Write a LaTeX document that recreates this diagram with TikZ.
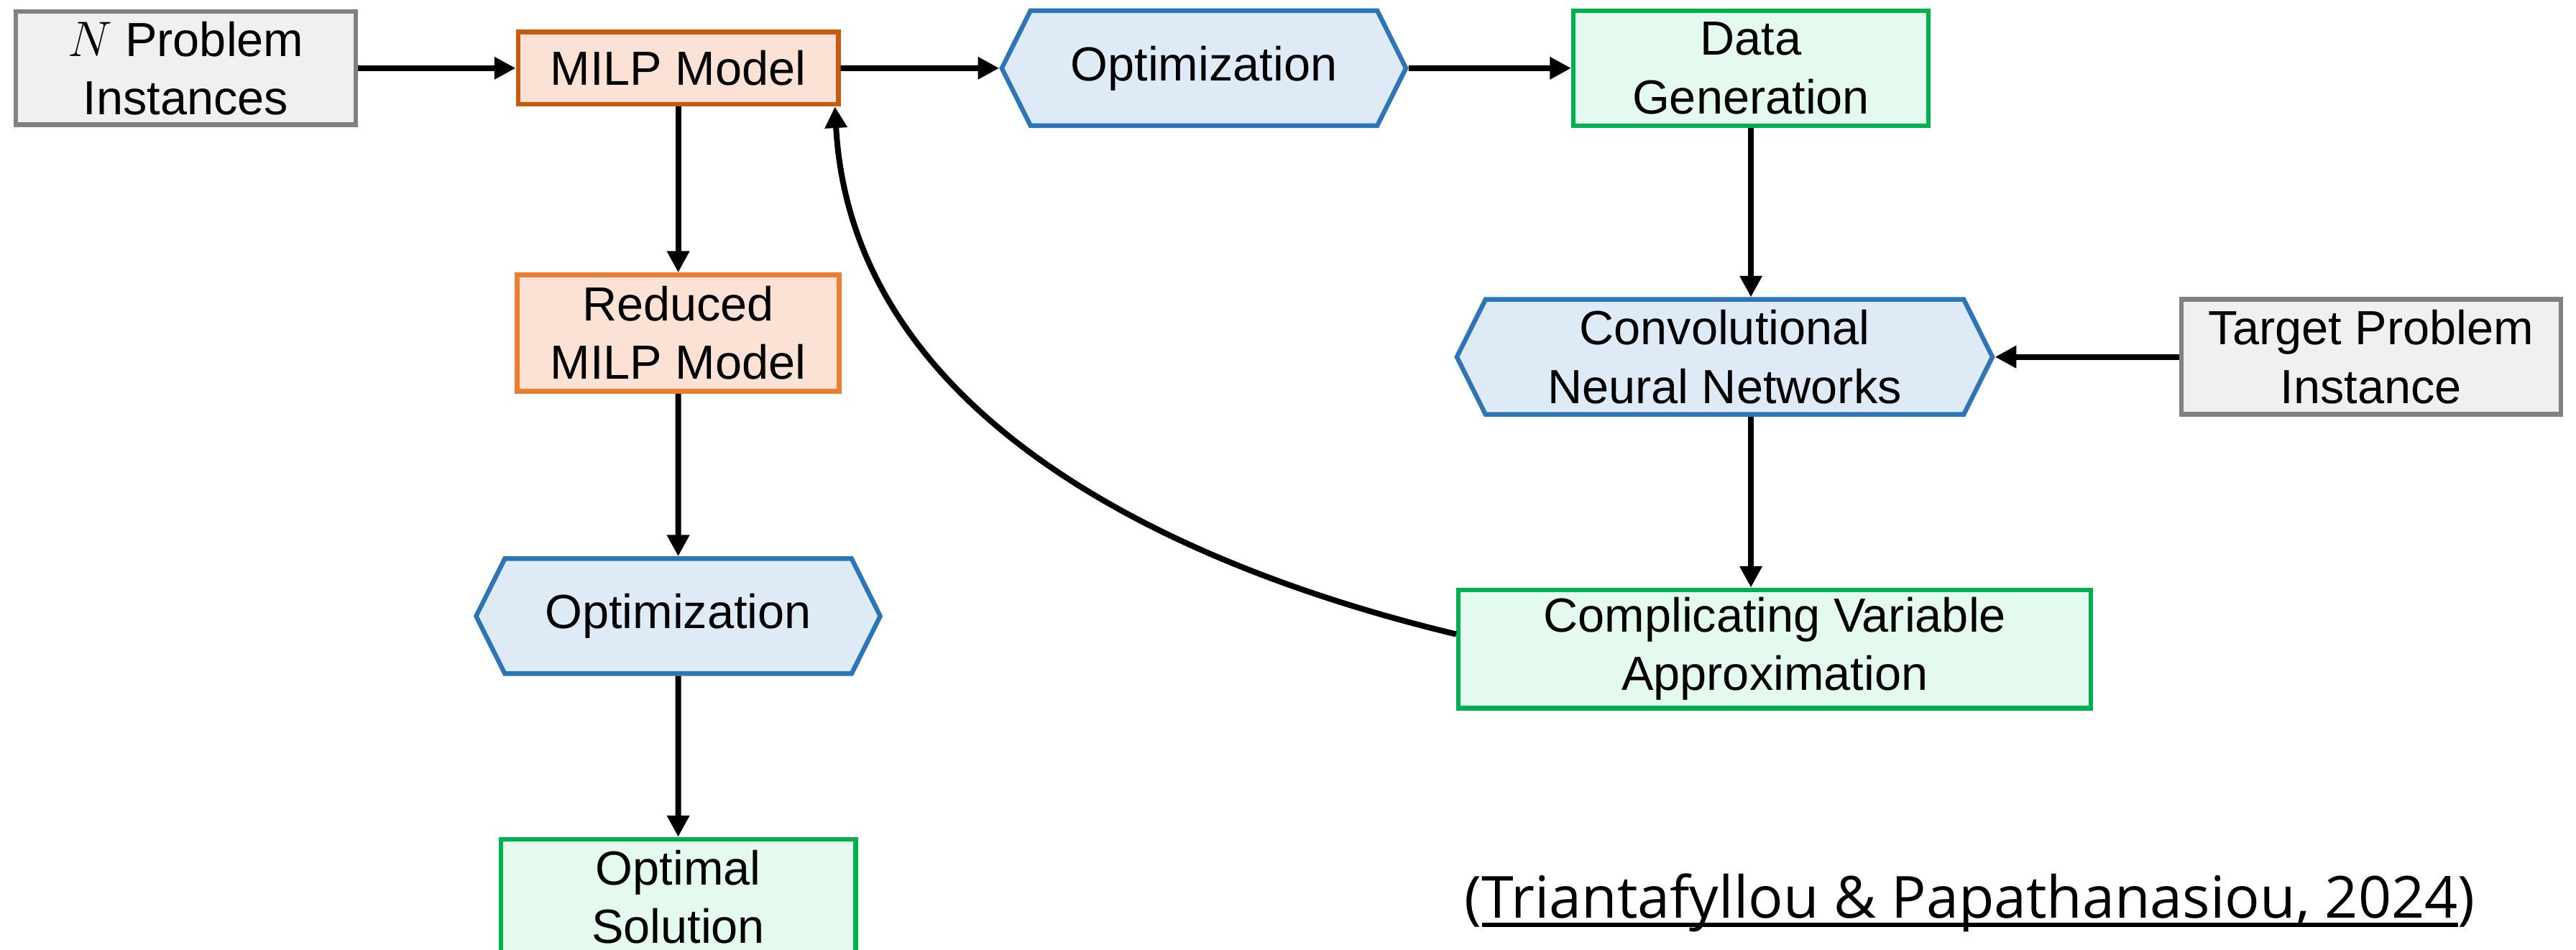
\documentclass[tikz,border=0pt]{standalone}
\usepackage{fontspec}
\setmainfont{Liberation Sans}
\newfontfamily\citefont{Open Sans}
\usetikzlibrary{shapes.symbols, arrows.meta, positioning}

\definecolor{greyfill}{HTML}{F0F0F0}
\definecolor{greyline}{HTML}{808080}
\definecolor{milpfill}{HTML}{FBE2D5}
\definecolor{milpline}{HTML}{C55A11}
\definecolor{redline}{HTML}{ED7D31}
\definecolor{optfill}{HTML}{DEEBF7}
\definecolor{optline}{HTML}{2E75B6}
\definecolor{genfill}{HTML}{E4FAEE}
\definecolor{genline}{HTML}{00B050}

% underline of the reference
\newcommand{\citeul}[1]{\setbox0\hbox{#1}\rlap{\rule[-0.11cm]{\wd0}{0.055cm}}\box0}

\begin{document}
\begin{tikzpicture}[
    box/.style={draw, rectangle, line width=1.6pt, minimum height=1.4cm, align=center, inner sep=1pt, font=\fontsize{16.6}{20.2}\selectfont},
    inbox/.style={box, fill=greyfill, draw=greyline},
    milpbox/.style={box, fill=milpfill, draw=milpline},
    optbox/.style={box, signal, signal to=east and west, signal pointer angle=127, fill=optfill, draw=optline, minimum width=4.92cm},
    genbox/.style={box, fill=genfill, draw=genline},
    arrow/.style={-{Triangle[length=2.6mm, width=2.6mm]}, line width=2pt}
]

\useasboundingbox (0,0) rectangle (31.36,-11.56);

% Nodes
\node [inbox, minimum width=4.14cm, minimum height=1.38cm] (npi) at (2.26,-0.83) {$N$ Problem\\Instances};
\node [milpbox, right=1.92cm of npi, minimum width=3.9cm, minimum height=0.88cm] (milp) {MILP Model};
\node [optbox, right=1.93cm of milp] (opt1) {Optimization};
\node [genbox, right=1.98cm of opt1, minimum width=4.32cm] (dg) {Data\\Generation};

\node [milpbox, draw=redline, below=2.02cm of milp, minimum width=3.92cm, minimum height=1.42cm] (rmilp) {Reduced\\MILP Model};
\node [optbox, below=1.98cm of rmilp] (opt2) {Optimization};
\node [genbox, below=1.96cm of opt2, minimum width=4.32cm] (os) {Optimal\\Solution};

\node [optbox, below=2.06cm of dg, xshift=-0.32cm, minimum width=6.52cm] (cnn) {Convolutional\\Neural Networks};
\node [inbox, right=2.24cm of cnn, minimum width=4.62cm] (tpi) {Target Problem\\Instance};
\node [genbox, below=2.08cm of cnn, xshift=0.61cm, minimum width=7.7cm, minimum height=1.44cm] (cva) {Complicating Variable\\Approximation};

\node [anchor=base, font=\citefont\fontsize{20.1}{24}\selectfont] (cite) at (23.98,-11.18) {(\citeul{Triantafyllou \& Papathanasiou, 2024})};

% Arrows
\draw [arrow] (npi) -- (milp);
\draw [arrow] (milp) -- (opt1);
\draw [arrow] (opt1) -- (dg);
\draw [arrow] (dg.south) -- (dg.south |- cnn.north);
\draw [arrow] (tpi.west) -- (tpi.west -| cnn.east);
\draw [arrow] (dg.south |- cnn.south) -- (dg.south |- cva.north);

\draw [arrow] (milp) -- (rmilp);
\draw [arrow] (rmilp) -- (opt2);
\draw [arrow] (opt2) -- (os);

% Feedback from the approximation
\draw [arrow] ([yshift=0.18cm]cva.west) .. controls +(-3.74,0.9) and +(0.2,-3.64) .. ([xshift=-2pt]milp.south east);

\end{tikzpicture}
\end{document}
